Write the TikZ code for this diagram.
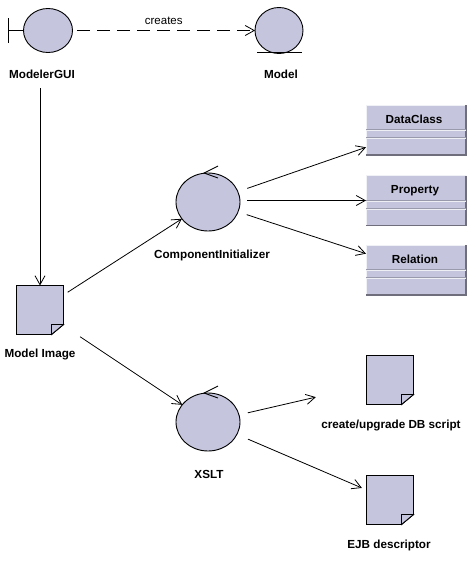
\documentclass[tikz,border=0pt]{standalone}
\usepackage{fontspec}
\setmainfont{Liberation Sans}
\usetikzlibrary{arrows.meta,shapes.geometric}
\definecolor{umlfill}{HTML}{C5C5DE}
\definecolor{umledge}{HTML}{6E6E7C}
\tikzset{
  x=1pt,y=-1pt,
  every node/.style={inner sep=0pt,outer sep=0pt},
  ball/.style={ellipse,draw=black,line width=.9pt,fill=umlfill},
  lbl/.style={font=\fontsize{11.7}{13}\selectfont\bfseries,text=black},
  conn/.style={line width=.8pt,-{Straight Barb[length=9pt,width=10pt,line width=.8pt]}},
  classbox/.style={rectangle,minimum width=100pt,minimum height=50pt,fill=umlfill},
  docbox/.style={rectangle,minimum width=47pt,minimum height=49pt},
  thin line/.style={line width=.9pt},
}
\newcommand{\docshape}[1]{%
  \filldraw[thin line,fill=umlfill] (#1.north west) -- (#1.north east) -- ([yshift=-39pt]#1.north east) -- ([xshift=-12pt]#1.south east) -- (#1.south west) -- cycle;
  \draw[thin line,fill=umlfill] ([yshift=-39pt]#1.north east) -- ([xshift=-12pt,yshift=-39pt]#1.north east) -- ([xshift=-12pt]#1.south east) -- cycle;
}
\newcommand{\classshape}[1]{%
  \draw[line width=1pt,white!75!umlfill] (#1.south west) -- (#1.north west) -- (#1.north east);
  \draw[line width=1.5pt,umledge] (#1.north east) -- (#1.south east) -- (#1.south west);
  \draw[line width=1pt,umledge!50!umlfill] ([yshift=-24.5pt]#1.north west) -- ([yshift=-24.5pt]#1.north east);
  \draw[line width=1pt,umledge!50!umlfill] ([yshift=-32.5pt]#1.north west) -- ([yshift=-32.5pt]#1.north east);
  \draw[line width=1pt,white!70!umlfill] ([yshift=-25.5pt]#1.north west) -- ([yshift=-25.5pt]#1.north east);
  \draw[line width=1pt,white!70!umlfill] ([yshift=-33.5pt]#1.north west) -- ([yshift=-33.5pt]#1.north east);
}
\begin{document}
\begin{tikzpicture}
\useasboundingbox (0,0) rectangle (475,565);
\fill[white] (0,0) rectangle (475,565);
% actors
\node[ball,minimum width=49pt,minimum height=44pt] (gui) at (48,30.5) {};
\node[ball,minimum width=48pt,minimum height=46pt] (model) at (279,30.5) {};
\node[ball,minimum width=64pt,minimum height=58pt] (comp) at (208,202) {};
\node[ball,minimum width=64pt,minimum height=58pt] (xslt) at (208,422) {};
% decorations
\coordinate (bndtop) at (8.5,18); \coordinate (bndbot) at (8.5,43); \coordinate (bndmid) at (8.5,30.5);
\draw[thin line] (bndtop) -- (bndbot) (bndmid) -- (gui.west);
\coordinate (basel) at (257,52.5); \coordinate (baser) at (302,52.5);
\draw[thin line] (basel) -- (baser);
\coordinate (ctip) at (204,173); \draw[thin line] (218,166) -- (ctip) -- (218,178);
\coordinate (xtip) at (204,393); \draw[thin line] (218,386) -- (xtip) -- (218,398);
% classes
\node[classbox] (dc) at (416,130) {};
\node[classbox] (prop) at (416,200.5) {};
\node[classbox] (rel) at (416,270) {};
\classshape{dc}\classshape{prop}\classshape{rel}
\node[lbl,anchor=base] at (414,123) {DataClass};
\node[lbl,anchor=base] at (415,193) {Property};
\node[lbl,anchor=base] at (415,263) {Relation};
% documents
\node[docbox] (img) at (40,310) {};
\node[docbox] (dbs) at (390,380) {};
\node[docbox] (ejb) at (390,500) {};
\docshape{img}\docshape{dbs}\docshape{ejb}
% labels
\node[lbl,anchor=base] (guil) at (42,78) {ModelerGUI};
\node[lbl,anchor=base] (modell) at (281,78) {Model};
\node[lbl,anchor=base] (compl) at (212,258) {ComponentInitializer};
\node[lbl,anchor=base] (imgl) at (40,357) {Model Image};
\node[lbl,anchor=base] (xsltl) at (209,478) {XSLT};
\node[lbl,anchor=base] (dbsl) at (391,428) {create/upgrade DB script};
\node[lbl,anchor=base] (ejbl) at (389,548) {EJB descriptor};
% connectors
\draw[conn,dash pattern=on 13pt off 7pt,shorten <=4.5pt] (gui.east) -- node[above=6pt,font=\fontsize{11.5}{13}\selectfont] (cr) {creates} (model.west);
\draw[conn,shorten <=10pt] (guil.south -| img) -- (img);
\draw[conn,shorten <=5pt] (img) -- (comp);
\draw[conn,shorten <=20pt] (img) -- (xslt);
\draw[conn,shorten <=10pt] (comp) -- (dc);
\draw[conn,shorten <=39pt] (comp |- prop) -- (prop);
\draw[conn,shorten <=9pt] (comp) -- (rel);
\draw[conn,shorten <=9pt,shorten >=52pt] (xslt) -- (dbs);
\draw[conn,shorten <=12pt,shorten >=5pt] (xslt) -- (ejb);
\end{tikzpicture}
\end{document}
